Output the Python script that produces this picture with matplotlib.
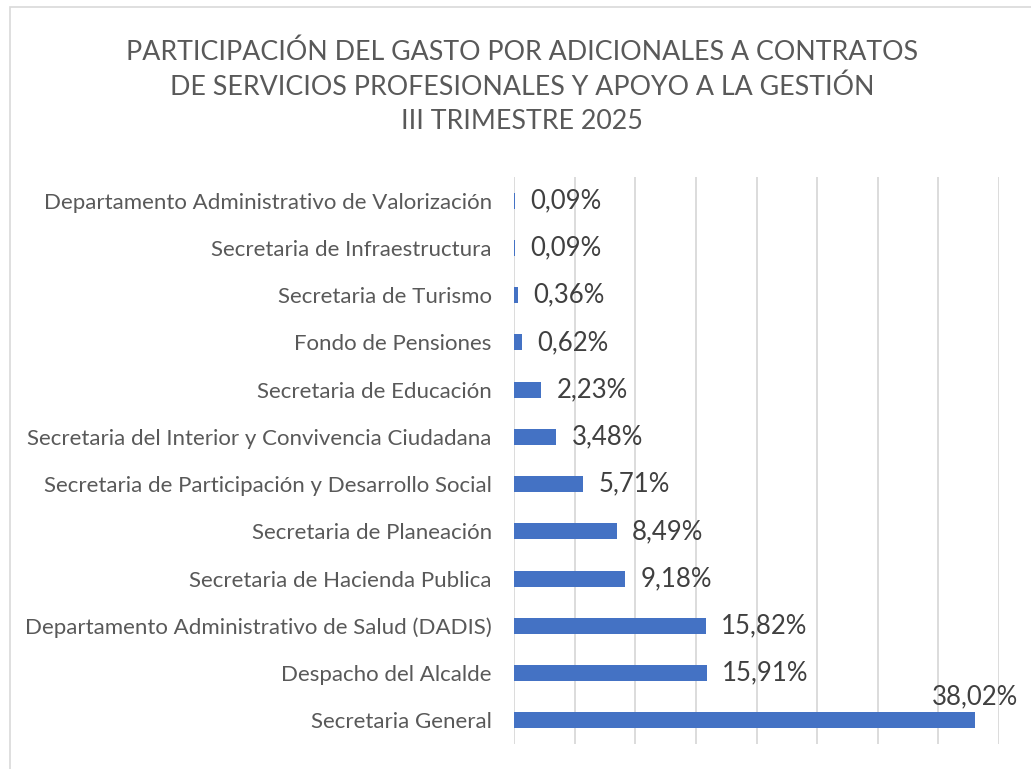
import matplotlib
matplotlib.use("Agg")
import matplotlib.pyplot as plt
from matplotlib.patches import Rectangle

# data, top of the chart first
categorias = [
    "Departamento Administrativo de Valorización",
    "Secretaria de Infraestructura",
    "Secretaria de Turismo",
    "Fondo de Pensiones",
    "Secretaria de Educación",
    "Secretaria del Interior y Convivencia Ciudadana",
    "Secretaria de Participación y Desarrollo Social",
    "Secretaria de Planeación",
    "Secretaria de Hacienda Publica",
    "Departamento Administrativo de Salud (DADIS)",
    "Despacho del Alcalde",
    "Secretaria General",
]
participacion = [0.09, 0.09, 0.36, 0.62, 2.23, 3.48, 5.71, 8.49, 9.18, 15.82, 15.91, 38.02]

titulo = ("PARTICIPACIÓN DEL GASTO POR ADICIONALES A CONTRATOS\n"
          "DE SERVICIOS PROFESIONALES Y APOYO A LA GESTIÓN\n"
          "III TRIMESTRE 2025")

plt.rcParams['font.family'] = ['Lato', 'DejaVu Sans']

W, H = 1031, 769
fig = plt.figure(figsize=(W / 100, H / 100), dpi=100)
ax = fig.add_axes([514 / W, 1 - 744 / H, (999 - 514) / W, (744 - 177) / H])

y = list(range(len(categorias)))
ax.barh(y, participacion, height=0.34, color='#4472C4', zorder=3)
ax.set_ylim(len(categorias) - 0.5, -0.5)
ax.set_xlim(0, 40)
ax.set_xticks(range(0, 41, 5))
ax.set_xticklabels([])
ax.tick_params(axis='x', length=0)
ax.tick_params(axis='y', length=0, pad=16)
ax.set_yticks(y)
ax.set_yticklabels(categorias, fontsize=16, color='#595959')
ax.grid(axis='x', color='#D9D9D9', linewidth=1.3, zorder=0)
for s in ax.spines.values():
    s.set_visible(False)

# etiquetas de datos
for i, v in enumerate(participacion):
    txt = '{:.2f}%'.format(v).replace('.', ',')
    if v > 30:
        ax.annotate(txt, (v, i - 0.17), xytext=(0, 2), textcoords='offset points',
                    ha='center', va='bottom', fontsize=18.5, color='#404040')
    else:
        ax.annotate(txt, (v, i), xytext=(11, 0), textcoords='offset points',
                    ha='left', va='center', fontsize=18.5, color='#404040')

fig.text(522 / W, 1 - 87 / H, titulo, ha='center', va='center', fontsize=19.3,
         color='#595959', linespacing=1.45, multialignment='center')

# borde del gráfico
fig.patches.append(Rectangle((9.5 / W, -0.5), 2, 0.5 + 1 - 6.5 / H, transform=fig.transFigure,
                             fill=False, edgecolor='#D9D9D9', linewidth=1.2))

fig.savefig('out.png', dpi=100, facecolor='white')
